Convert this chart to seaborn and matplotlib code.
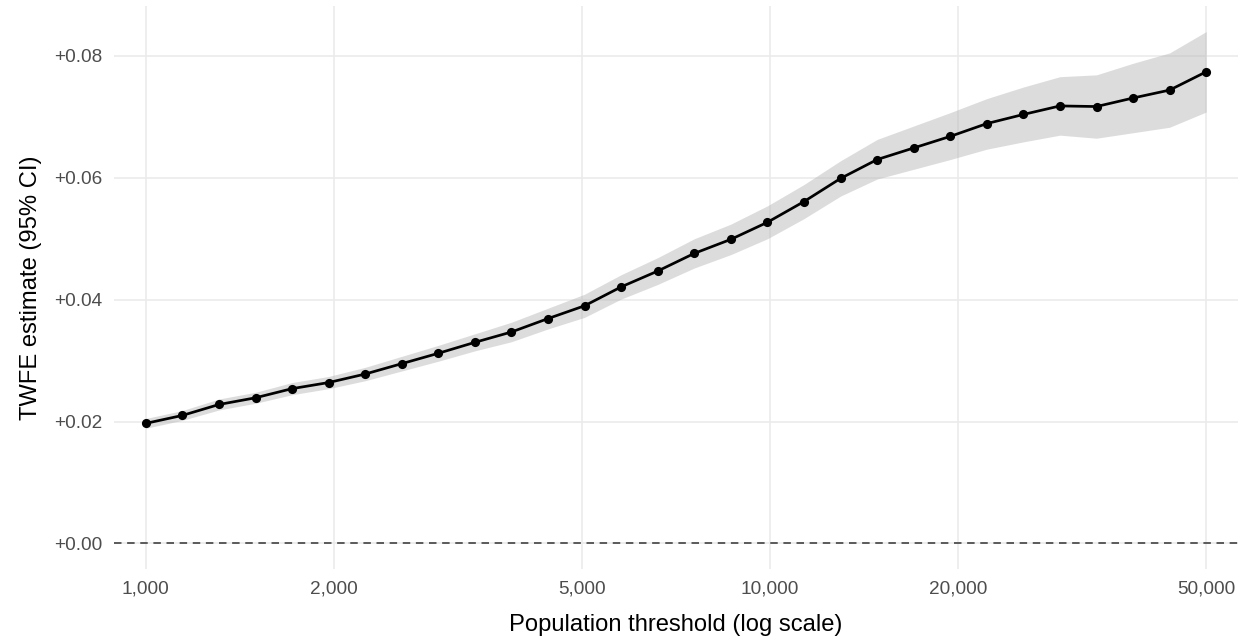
import numpy as np
import pandas as pd
import matplotlib
matplotlib.use("Agg")
import matplotlib.pyplot as plt
from matplotlib.ticker import FuncFormatter, FixedLocator, NullLocator
import seaborn as sns

# ---- data ----
threshold = [1000, 1144, 1310, 1499, 1715, 1963, 2247, 2571, 2942, 3367,
             3854, 4410, 5047, 5776, 6610, 7565, 8657, 9907, 11338, 12976,
             14850, 16994, 19449, 22257, 25472, 29151, 33361, 38179, 43692, 50000]
estimate = [0.0197, 0.0210, 0.0228, 0.0239, 0.0254, 0.0264, 0.0278, 0.0295, 0.0312, 0.0330,
            0.0347, 0.0369, 0.0390, 0.0421, 0.0447, 0.0476, 0.0499, 0.0527, 0.0561, 0.0599,
            0.0630, 0.0649, 0.0668, 0.0689, 0.0704, 0.0718, 0.0717, 0.0731, 0.0744, 0.0774]
ci_low = [0.0189, 0.0202, 0.0219, 0.0230, 0.0244, 0.0254, 0.0267, 0.0283, 0.0299, 0.0316,
          0.0331, 0.0352, 0.0371, 0.0401, 0.0425, 0.0452, 0.0474, 0.0500, 0.0533, 0.0570,
          0.0598, 0.0614, 0.0630, 0.0647, 0.0659, 0.0670, 0.0665, 0.0674, 0.0683, 0.0708]
ci_high = [0.0205, 0.0218, 0.0237, 0.0248, 0.0264, 0.0274, 0.0289, 0.0307, 0.0325, 0.0344,
           0.0363, 0.0386, 0.0409, 0.0441, 0.0469, 0.0500, 0.0524, 0.0554, 0.0589, 0.0628,
           0.0663, 0.0685, 0.0707, 0.0730, 0.0749, 0.0766, 0.0769, 0.0788, 0.0805, 0.0840]
x_ticks = [1000, 2000, 5000, 10000, 20000, 50000]
y_ticks = [0.00, 0.02, 0.04, 0.06, 0.08]

df = pd.DataFrame({"threshold": threshold, "estimate": estimate,
                   "lo": ci_low, "hi": ci_high})

sns.set_theme(style="whitegrid")
plt.rcParams["font.family"] = ["Liberation Sans", "DejaVu Sans"]

fig = plt.figure(figsize=(1245 / 150, 640 / 150), dpi=150)
ax = fig.add_axes([114 / 1245, 1 - 569 / 640, (1238 - 114) / 1245, (569 - 6) / 640])

ax.fill_between(df["threshold"], df["lo"], df["hi"], color="#B3B3B3", alpha=0.45,
                linewidth=0, zorder=2)
ax.axhline(0, color="#555555", linewidth=0.9, linestyle=(0, (4, 3)), zorder=2)
sns.lineplot(data=df, x="threshold", y="estimate", ax=ax, color="black",
             linewidth=1.3, marker="o", markersize=4.4, markeredgewidth=0,
             zorder=3)

ax.set_xscale("log")
lx0, lx1 = np.log10(min(threshold)), np.log10(max(threshold))
pad = (lx1 - lx0) * 0.03
ax.set_xlim(10 ** (lx0 - pad), 10 ** (lx1 + pad))
ax.set_ylim(-0.0042, 0.0882)

ax.xaxis.set_major_locator(FixedLocator(x_ticks))
ax.xaxis.set_minor_locator(NullLocator())
ax.xaxis.set_major_formatter(FuncFormatter(lambda v, p: f"{int(round(v)):,}"))
ax.yaxis.set_major_locator(FixedLocator(y_ticks))
ax.yaxis.set_major_formatter(FuncFormatter(lambda v, p: f"{round(v, 4) + 0.0:+.2f}"))

for s in ax.spines.values():
    s.set_visible(False)
ax.set_facecolor("white")
ax.grid(True, which="major", color="#EBEBEB", linewidth=0.8)
ax.grid(False, which="minor")
ax.tick_params(axis="both", length=0, labelsize=9.1, labelcolor="#4D4D4D")
ax.tick_params(axis="x", pad=5.5)
ax.tick_params(axis="y", pad=5.5)

ax.set_xlabel("Population threshold (log scale)", fontsize=11.4, color="black", labelpad=8)
ax.set_ylabel("TWFE estimate (95% CI)", fontsize=11.4, color="black", labelpad=6)

fig.savefig("out.png", dpi=150, facecolor="white")
